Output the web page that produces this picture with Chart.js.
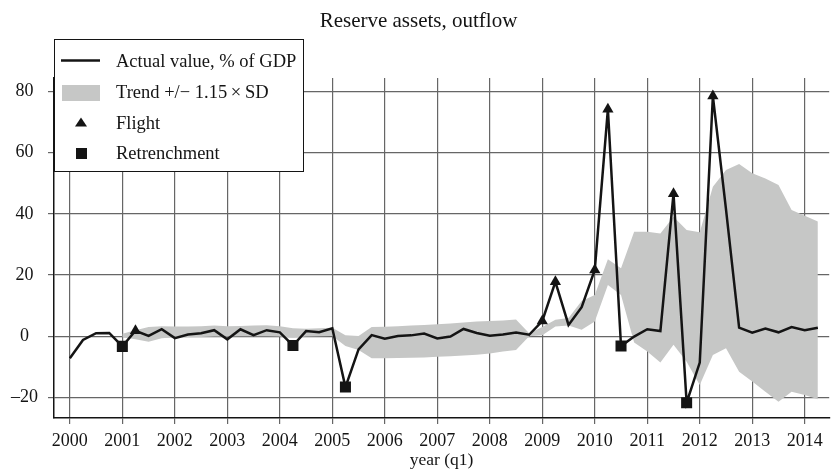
<!DOCTYPE html>
<html>
<head>
<meta charset="utf-8">
<script src="https://cdn.jsdelivr.net/npm/chart.js@4/dist/chart.umd.min.js"></script>
<style>
  html, body { margin: 0; padding: 0; background: #fff; }
  #wrap { width: 837px; height: 472px; }
</style>
</head>
<body>
<div id="wrap"><canvas id="c" width="837" height="472"></canvas></div>
<script>
// ---- data ----
const quarters = [
  '2000Q1','2000Q2','2000Q3','2000Q4','2001Q1','2001Q2','2001Q3','2001Q4',
  '2002Q1','2002Q2','2002Q3','2002Q4','2003Q1','2003Q2','2003Q3','2003Q4',
  '2004Q1','2004Q2','2004Q3','2004Q4','2005Q1','2005Q2','2005Q3','2005Q4',
  '2006Q1','2006Q2','2006Q3','2006Q4','2007Q1','2007Q2','2007Q3','2007Q4',
  '2008Q1','2008Q2','2008Q3','2008Q4','2009Q1','2009Q2','2009Q3','2009Q4',
  '2010Q1','2010Q2','2010Q3','2010Q4','2011Q1','2011Q2','2011Q3','2011Q4',
  '2012Q1','2012Q2','2012Q3','2012Q4','2013Q1','2013Q2','2013Q3','2013Q4',
  '2014Q1','2014Q2'
];
const actualValue = [
  -7.2, -1.2, 1.0, 1.1, -3.3, 1.8, 0.1, 2.3,
  -0.6, 0.6, 1.0, 2.0, -1.0, 2.3, 0.4, 2.0,
  1.3, -3.0, 1.7, 1.3, 2.6, -16.6, -4.3, 0.4,
  -0.8, 0.1, 0.3, 0.9, -0.7, -0.1, 2.4, 1.1,
  0.2, 0.6, 1.2, 0.5, 5.0, 17.8, 3.7, 9.5,
  21.7, 74.2, -3.2, -0.1, 2.3, 1.7, 46.6, -21.7,
  -8.6, 78.5, 41.5, 2.8, 1.2, 2.5, 1.3, 3.0,
  2.0, 2.8
];
const trendUpper = [
  null, null, null, null, 0.8, 2.0, 3.0, 3.3,
  3.2, 3.2, 3.3, 3.5, 3.3, 3.4, 3.5, 3.6,
  3.3, 2.6, 2.5, 2.6, 2.8, 0.3, 0.1, 3.0,
  3.1, 3.3, 3.5, 3.7, 3.9, 4.2, 4.5, 4.8,
  5.0, 5.2, 5.5, 1.0, 3.0, 5.4, 6.0, 11.5,
  13.5, 25.2, 22.2, 34.2, 34.2, 33.6, 39.1, 34.7,
  34.0, 48.9, 54.3, 56.3, 53.3, 51.6, 49.4, 41.3,
  39.4, 37.5
];
const trendLower = [
  null, null, null, null, -0.3, -1.0, -1.8, -0.6,
  -0.3, -0.2, -0.2, -0.1, -0.1, 0.0, 0.0, 0.0,
  -0.1, -0.5, -0.1, 0.0, 0.1, -3.2, -4.5, -7.2,
  -7.2, -7.1, -7.0, -6.9, -6.7, -6.5, -6.3, -6.0,
  -5.6, -5.0, -4.5, 0.0, 0.3, 3.2, 3.5, 2.1,
  4.8, 16.8, 13.5, -2.0, -5.0, -8.6, -2.8, -8.3,
  -15.9, -6.1, -3.9, -11.6, -14.8, -18.1, -21.4, -18.1,
  -19.2, -20.6
];
const flightQuarters = ['2001Q2','2009Q1','2009Q2','2010Q1','2010Q2','2011Q3','2012Q2'];
const retrenchmentQuarters = ['2001Q1','2004Q2','2005Q2','2010Q3','2011Q4'];
const xTickYears = [2000,2001,2002,2003,2004,2005,2006,2007,2008,2009,2010,2011,2012,2013,2014];
const yTickValues = [-20, 0, 20, 40, 60, 80];
const yTickLabels = ['\u201320', '0', '20', '40', '60', '80'];
const titleText = 'Reserve assets, outflow';
const xAxisTitle = 'year (q1)';
const seriesLabels = ['Actual value, % of GDP', 'Trend +/\u2212 1.15\u2009\u00d7\u2009SD', 'Flight', 'Retrenchment'];

// ---- helpers ----
function qToX(q) { return parseInt(q.slice(0, 4), 10) + (parseInt(q.slice(5), 10) - 1) / 4; }
function pts(arr) { return quarters.map((q, i) => ({ x: qToX(q), y: arr[i] })); }
function markerPts(list) { return list.map(q => ({ x: qToX(q), y: actualValue[quarters.indexOf(q)] })); }

const FONT = "'Liberation Serif', 'DejaVu Serif', serif";
const INK = '#141414';
const BAND = '#c6c7c6';
const GRID = '#666666';

const legendBox = {
  id: 'legendBox',
  afterDraw(chart) {
    const ctx = chart.ctx;
    ctx.save();
    ctx.fillStyle = '#fff';
    ctx.fillRect(54, 40, 249, 132);
    ctx.strokeStyle = INK; ctx.lineWidth = 1;
    ctx.strokeRect(54.5, 39.5, 249, 132);
    // line sample
    ctx.strokeStyle = INK; ctx.lineWidth = 2.5;
    ctx.beginPath(); ctx.moveTo(61, 60.5); ctx.lineTo(100, 60.5); ctx.stroke();
    // band sample
    ctx.fillStyle = BAND; ctx.fillRect(62, 85, 38, 16);
    // triangle
    ctx.fillStyle = INK;
    ctx.beginPath(); ctx.moveTo(81, 117.5); ctx.lineTo(87, 126.5); ctx.lineTo(75, 126.5); ctx.closePath(); ctx.fill();
    // square
    ctx.fillRect(76, 148, 11, 11);
    // texts
    ctx.fillStyle = INK;
    ctx.font = '18.5px ' + FONT;
    ctx.textBaseline = 'alphabetic';
    ctx.textAlign = 'left';
    const ys = [66.5, 98, 128.5, 159];
    seriesLabels.forEach((t, i) => ctx.fillText(t, 116, ys[i]));
    ctx.restore();
  }
};

new Chart(document.getElementById('c'), {
  type: 'line',
  data: {
    datasets: [
      { label: seriesLabels[2], data: markerPts(flightQuarters), showLine: false,
        pointStyle: 'triangle', pointRadius: 6.5, pointBackgroundColor: INK, pointBorderColor: INK,
        pointBorderWidth: 0, order: 0 },
      { label: seriesLabels[3], data: markerPts(retrenchmentQuarters), showLine: false,
        pointStyle: 'rect', pointRadius: 7.8, pointBackgroundColor: INK, pointBorderColor: INK,
        pointBorderWidth: 0, order: 0 },
      { label: seriesLabels[0], data: pts(actualValue), borderColor: INK, borderWidth: 2.5,
        pointRadius: 0, fill: false, tension: 0, borderJoinStyle: 'miter', order: 1 },
      { label: 'lower', data: pts(trendLower), borderWidth: 0, borderColor: BAND, pointRadius: 0,
        fill: false, order: 2 },
      { label: seriesLabels[1], data: pts(trendUpper), borderWidth: 0, borderColor: BAND,
        backgroundColor: BAND, pointRadius: 0, fill: '-1', order: 2 }
    ]
  },
  options: {
    responsive: false,
    animation: false,
    devicePixelRatio: 1,
    layout: { padding: 0 },
    plugins: {
      legend: { display: false },
      tooltip: { enabled: false },
      title: { display: true, text: titleText, color: INK,
        font: { family: FONT, size: 21, weight: 'normal' },
        padding: { top: 9, bottom: 43.8 } }
    },
    scales: {
      x: {
        type: 'linear', min: 1999.698, max: 2014.466,
        afterBuildTicks: s => { s.ticks = xTickYears.map(v => ({ value: v })); },
        afterFit: s => { s.height = 54; },
        ticks: { color: INK, font: { family: FONT, size: 18 }, padding: 6,
          maxRotation: 0, autoSkip: false, callback: v => String(v) },
        grid: { color: GRID, lineWidth: 1.2, tickLength: 6, drawTicks: true },
        border: { display: true, color: INK, width: 1.5 },
        title: { display: true, text: xAxisTitle, color: INK,
          font: { family: FONT, size: 17.5 }, padding: { top: 0, bottom: 1 } }
      },
      y: {
        type: 'linear', min: -26.7, max: 84.4,
        afterBuildTicks: s => { s.ticks = yTickValues.map(v => ({ value: v })); },
        afterFit: s => { s.width = 54; },
        ticks: { color: INK, font: { family: FONT, size: 18 }, padding: 10, crossAlign: 'center',
          callback: v => yTickLabels[yTickValues.indexOf(v)] },
        grid: { color: GRID, lineWidth: 1.2, tickLength: 6, drawTicks: true },
        border: { display: true, color: INK, width: 1.5 }
      }
    }
  },
  plugins: [legendBox]
});
</script>
</body>
</html>
